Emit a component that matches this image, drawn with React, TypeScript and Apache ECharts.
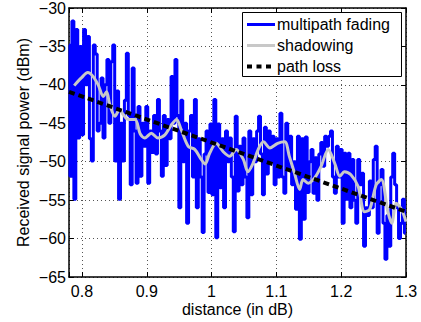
import React, { useEffect, useRef } from "react";
import * as echarts from "echarts";

// ---- data ----
const DIST_MIN = 0.78;
const DIST_MAX = 1.3;
const POWER_MIN = -65;
const POWER_MAX = -30;
const POWER_STEP = 5;

const SERIES_NAMES = ["multipath fading", "shadowing", "path loss"];

// multipath fading: uniformly sampled in distance
const FADING_START = 0.78;
const FADING_STEP = 0.003;
const FADING_DBM = [
  -34.8, -51.9, -31.7, -54.9, -32.8, -46.9, -35.0, -46.5, -32.8, -40.0,
  -33.7, -47.0, -49.9, -34.8, -36.0, -46.0, -45.0, -39.1, -46.9, -40.0,
  -36.7, -45.0, -37.0, -34.8, -49.9, -40.8, -54.9, -45.0, -49.9, -42.0,
  -35.9, -44.0, -53.0, -37.8, -46.0,
  -52.8, -42.8, -51.9, -45.0, -48.0, -42.8, -52.8, -46.0, -48.8, -44.0,
  -49.0, -41.9, -46.0, -51.9, -44.0, -50.5, -44.5, -47.0, -38.9, -45.0,
  -36.7, -44.0, -56.0, -42.0, -50.0, -45.0, -58.0, -46.0, -44.0, -52.0,
  -41.9, -56.0, -47.0, -52.0, -59.2, -49.0,
  -46.0, -54.0, -45.1, -54.3, -41.9, -59.9, -45.1, -53.4, -47.0, -56.0,
  -46.0, -50.0, -46.9, -52.0, -59.1, -44.1, -53.8, -48.0, -53.0, -46.9,
  -52.0, -57.3, -46.0, -54.3, -47.0, -50.0, -46.0, -44.1, -49.0, -54.3,
  -45.5, -51.6, -46.0, -50.0,
  -46.7, -53.0, -47.0, -52.0, -43.7, -52.0, -54.1, -45.0, -51.0, -46.7,
  -53.0, -50.0, -56.2, -46.7, -60.1, -47.0, -57.5, -46.8, -54.0, -50.0,
  -48.4, -54.1, -49.5, -55.0, -49.0, -47.5, -50.6, -46.7, -48.0, -46.7,
  -46.0, -52.0, -54.1, -48.0, -52.0, -48.4,
  -58.0, -48.9, -54.9, -48.9, -56.0, -49.7, -55.0, -58.0, -49.7, -53.0,
  -51.5, -61.0, -56.0, -57.0, -52.5, -56.0, -49.7, -48.0, -59.3, -53.0,
  -51.0, -58.0, -62.7, -57.0, -61.0, -52.0, -48.9, -53.0, -56.0, -60.0,
  -58.0, -54.9, -59.3,
];

// shadowing
const SHADOW_DIST = [
  0.788, 0.799, 0.809, 0.817, 0.825, 0.833, 0.838, 0.843, 0.851, 0.858,
  0.864, 0.871, 0.882, 0.89, 0.897, 0.907, 0.917, 0.928, 0.938, 0.946,
  0.953, 0.964, 0.974, 0.984, 0.99, 0.997, 1.007, 1.018, 1.028, 1.038,
  1.049, 1.056, 1.064, 1.072, 1.08, 1.09, 1.102, 1.113, 1.12, 1.128,
  1.136, 1.141, 1.149, 1.159, 1.169, 1.18, 1.19, 1.198, 1.205, 1.215,
  1.226, 1.236, 1.244, 1.254, 1.262, 1.272, 1.278, 1.285, 1.293, 1.3,
];
const SHADOW_DBM = [
  -40.1, -39.1, -38.4, -38.9, -40.0, -41.5, -40.9, -42.6, -44.1, -43.2,
  -43.9, -44.5, -44.5, -46.4, -46.9, -46.3, -46.9, -46.5, -45.2, -44.5,
  -45.8, -48.0, -48.4, -49.7, -50.3, -48.9, -47.6, -48.7, -49.3, -48.4,
  -49.7, -51.3, -50.2, -48.4, -47.4, -48.2, -47.6, -47.4, -49.3, -51.5,
  -53.6, -52.3, -52.8, -52.1, -50.6, -48.4, -50.2, -51.9, -51.3, -51.7,
  -53.2, -56.5, -56.2, -53.0, -52.3, -56.5, -58.0, -55.4, -56.2, -57.8,
];

// path loss
const PATHLOSS_DIST = [0.78, 1.3];
const PATHLOSS_DBM = [-40.9, -56.5];

const FONT = "'Liberation Sans', Arial, Helvetica, sans-serif";
const BLUE = "#0000ff";
const GRAY = "#c8c8c8";
const BLACK = "#000000";

export default function App() {
  const ref = useRef<HTMLDivElement>(null);

  useEffect(() => {
    if (!ref.current) return;
    const chart = echarts.init(ref.current, null, { renderer: "svg" });

    const fading = FADING_DBM.map((v, i) => [
      +(FADING_START + i * FADING_STEP).toFixed(4),
      v,
    ]);
    const shadow = SHADOW_DIST.map((d, i) => [d, SHADOW_DBM[i]]);
    const pathloss = PATHLOSS_DIST.map((d, i) => [d, PATHLOSS_DBM[i]]);

    const axisLine = {
      show: true,
      onZero: false,
      lineStyle: { color: "#000", width: 1.5 },
    };
    const axisTick = {
      show: true,
      inside: true,
      length: 5,
      lineStyle: { color: "#000", width: 1 },
    };
    const splitLine = {
      show: true,
      lineStyle: { color: "#555", type: [1, 3] as any, width: 1 },
    };

    const xFmt = (v: number) => {
      if (Math.abs(v * 10 - Math.round(v * 10)) > 1e-6) return "";
      return String(+v.toFixed(1));
    };
    const yFmt = (v: number) => (v < 0 ? "\u2212" + Math.abs(v) : String(v));

    // legend drawn as graphic (box, line samples, labels)
    const LX = 242.5;
    const LY = 12.5;
    const rows = [24.5, 45.5, 66.5];
    const legendStyles = [
      { stroke: BLUE, lineWidth: 3 },
      { stroke: GRAY, lineWidth: 3 },
      { stroke: BLACK, lineWidth: 4, lineDash: [5, 4.5] },
    ];
    const legendEls: any[] = [
      {
        type: "rect",
        shape: { x: LX, y: LY, width: 159, height: 64 },
        style: { fill: "#fff", stroke: "#000", lineWidth: 1 },
        z: 100,
      },
    ];
    SERIES_NAMES.forEach((n, i) => {
      legendEls.push({
        type: "line",
        shape: { x1: 247, y1: rows[i], x2: 275, y2: rows[i] },
        style: { ...legendStyles[i], fill: null },
        z: 101,
      });
      legendEls.push({
        type: "text",
        x: 277,
        y: rows[i],
        style: {
          text: n,
          fill: "#000",
          font: `16px ${FONT}`,
          verticalAlign: "middle",
          align: "left",
        },
        z: 101,
      });
    });

    chart.setOption({
      animation: false,
      backgroundColor: "#fff",
      textStyle: { fontFamily: FONT },
      grid: { left: 69, right: 15, top: 8, bottom: 45, containLabel: false },
      xAxis: [
        {
          type: "value",
          min: DIST_MIN,
          max: DIST_MAX,
          position: "bottom",
          axisLine,
          axisTick,
          splitLine,
          axisLabel: {
            color: "#000",
            fontSize: 16,
            fontFamily: FONT,
            margin: 6,
            formatter: xFmt,
          },
          name: "distance (in dB)",
          nameLocation: "middle",
          nameGap: 24,
          nameMoveOverlap: false,
          nameTextStyle: {
            color: "#000",
            fontSize: 16,
            fontFamily: FONT,
            verticalAlign: "top",
          },
        },
        {
          type: "value",
          min: DIST_MIN,
          max: DIST_MAX,
          position: "top",
          axisLine,
          axisTick,
          splitLine: { show: false },
          axisLabel: { show: false },
        },
      ],
      yAxis: [
        {
          type: "value",
          min: POWER_MIN,
          max: POWER_MAX,
          interval: POWER_STEP,
          position: "left",
          axisLine,
          axisTick,
          splitLine,
          axisLabel: {
            color: "#000",
            fontSize: 16,
            fontFamily: FONT,
            margin: 3,
            formatter: yFmt,
          },
          name: "Received signal power (dBm)",
          nameLocation: "middle",
          nameGap: 38,
          nameMoveOverlap: false,
          nameTextStyle: { color: "#000", fontSize: 16, fontFamily: FONT },
        },
        {
          type: "value",
          min: POWER_MIN,
          max: POWER_MAX,
          interval: POWER_STEP,
          position: "right",
          axisLine,
          axisTick,
          splitLine: { show: false },
          axisLabel: { show: false },
        },
      ],
      graphic: legendEls,
      series: [
        {
          type: "line",
          name: SERIES_NAMES[0],
          data: fading,
          symbol: "none",
          step: "middle",
          z: 2,
          lineStyle: { color: BLUE, width: 3 },
          itemStyle: { color: BLUE },
        },
        {
          type: "line",
          name: SERIES_NAMES[1],
          data: shadow,
          symbol: "none",
          smooth: 0.3,
          z: 3,
          lineStyle: { color: GRAY, width: 3 },
          itemStyle: { color: GRAY },
        },
        {
          type: "line",
          name: SERIES_NAMES[2],
          data: pathloss,
          symbol: "none",
          z: 4,
          lineStyle: { color: BLACK, width: 4, type: [6, 4] as any },
          itemStyle: { color: BLACK },
        },
      ],
    });

    return () => chart.dispose();
  }, []);

  return (
    <div
      ref={ref}
      style={{ position: "fixed", left: 0, top: 0, width: 421, height: 322 }}
    />
  );
}
